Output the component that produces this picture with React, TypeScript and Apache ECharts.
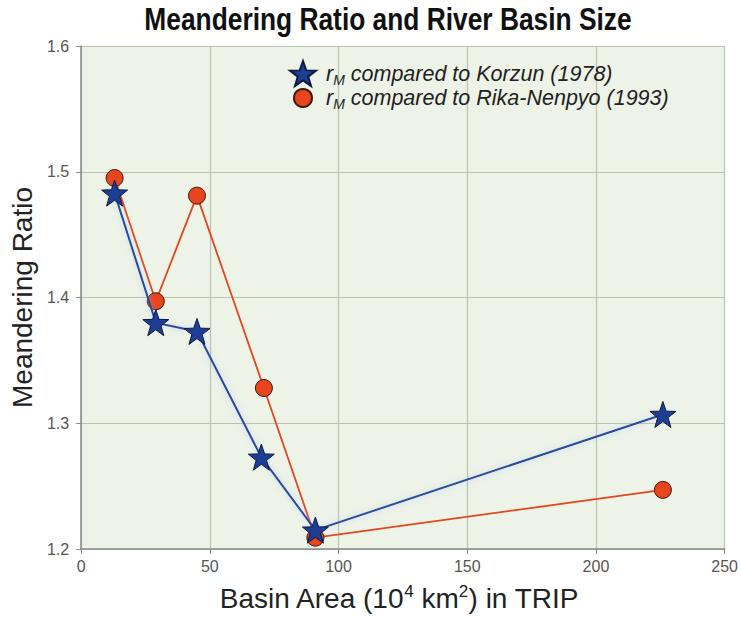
import React, { useEffect, useRef } from "react";
import * as echarts from "echarts";

const korzunArea = [13, 29, 45, 70, 91, 226];
const korzunRatio = [1.483, 1.38, 1.373, 1.273, 1.215, 1.307];
const rikaArea = [13, 29, 45, 71, 91, 226];
const rikaRatio = [1.495, 1.397, 1.481, 1.328, 1.209, 1.247];

const seriesNames = ["Korzun (1978)", "Rika-Nenpyo (1993)"];
const titleText = "Meandering Ratio and River Basin Size";

const STAR =
  "path://M12,0 L14.9,8.3 L23.5,8.5 L16.6,13.8 L19.1,22.2 L12,17.2 L4.9,22.2 L7.4,13.8 L0.5,8.5 L9.1,8.3 Z";

export default function App() {
  const ref = useRef<HTMLDivElement>(null);
  useEffect(() => {
    if (!ref.current) return;
    const chart = echarts.init(ref.current, null, { renderer: "svg" });
    const font = "Liberation Sans, Arial, Helvetica, sans-serif";
    const legendRich = (padLeft: number) => ({
      r: { fontSize: 21.5, fontStyle: "italic", color: "#222", fontFamily: font, padding: [0, 0, 0, padLeft] },
      m: { fontSize: 14, fontStyle: "italic", color: "#222", fontFamily: font, padding: [12, 0, 0, 0] },
      t: { fontSize: 21.5, fontStyle: "italic", color: "#222", fontFamily: font },
    });
    const fmt = (name: string) => `{r|r}{m|M}{t| compared to ${name}}`;
    chart.setOption({
      animation: false,
      backgroundColor: "#ffffff",
      textStyle: { fontFamily: font },
      graphic: [
        {
          type: "text",
          x: 388,
          y: 4,
          scaleX: 0.85,
          style: {
            text: titleText,
            fontSize: 31,
            fontWeight: "bold",
            fontFamily: font,
            fill: "#111",
            textAlign: "center",
            textVerticalAlign: "top",
          },
        },
      ],
      legend: [
        {
          orient: "vertical",
          left: 284,
          top: 55,
          itemWidth: 26,
          itemHeight: 26,
          data: [{ name: seriesNames[0], icon: STAR }],
          formatter: fmt,
          textStyle: { fontFamily: font, fontStyle: "italic", color: "#222", rich: legendRich(5) },
        },
        {
          orient: "vertical",
          left: 288,
          top: 82,
          itemWidth: 18,
          itemHeight: 18,
          data: [{ name: seriesNames[1], icon: "circle" }],
          formatter: fmt,
          textStyle: { fontFamily: font, fontStyle: "italic", color: "#222", rich: legendRich(9) },
        },
      ],
      grid: {
        left: 78,
        right: 15,
        top: 46,
        bottom: 64,
        show: true,
        backgroundColor: "#eef3e8",
        borderWidth: 0,
      },
      xAxis: {
        type: "value",
        min: 0,
        max: 250,
        interval: 50,
        name: "{a|Basin Area (10}{s|4}{a| km}{s|2}{a|) in TRIP}",
        nameLocation: "middle",
        nameGap: 34,
        nameTextStyle: {
          padding: [0, 8, 0, 0],
          rich: {
            a: { fontSize: 28, color: "#222", fontFamily: font },
            s: { fontSize: 17, color: "#222", fontFamily: font, padding: [0, 0, 13, 0] },
          },
        },
        axisLine: { show: true, lineStyle: { color: "#8a8a8a", width: 1.5 } },
        axisTick: { show: true, length: 5, lineStyle: { color: "#8a8a8a" } },
        axisLabel: { fontSize: 16, color: "#555", margin: 9, fontFamily: font },
        splitLine: { show: true, lineStyle: { color: "#b9c4ad", width: 1.2 } },
      },
      yAxis: {
        type: "value",
        min: 1.2,
        max: 1.6,
        interval: 0.1,
        name: "Meandering Ratio",
        nameLocation: "middle",
        nameGap: 42,
        nameTextStyle: { fontSize: 28, color: "#222", fontFamily: font },
        axisLine: { show: true, lineStyle: { color: "#8a8a8a", width: 1.5 } },
        axisTick: { show: true, length: 5, lineStyle: { color: "#8a8a8a" } },
        axisLabel: {
          fontSize: 16,
          color: "#555",
          margin: 12,
          fontFamily: font,
          formatter: (v: number) => v.toFixed(1),
        },
        splitLine: { show: true, lineStyle: { color: "#b9c4ad", width: 1.2 } },
      },
      series: [
        {
          name: seriesNames[0],
          type: "line",
          data: korzunArea.map((x, i) => [x, korzunRatio[i]]),
          symbol: STAR,
          symbolSize: 26,
          z: 3,
          lineStyle: {
            color: "#2b4a9e",
            width: 2,
            shadowColor: "rgba(140,185,235,0.6)",
            shadowBlur: 6,
          },
          itemStyle: { color: "#1d3e94", borderColor: "#0d1a40", borderWidth: 1 },
        },
        {
          name: seriesNames[1],
          type: "line",
          data: rikaArea.map((x, i) => [x, rikaRatio[i]]),
          symbol: "circle",
          symbolSize: 17,
          z: 2,
          lineStyle: { color: "#e4461f", width: 1.8 },
          itemStyle: { color: "#e8441e", borderColor: "#3a1a10", borderWidth: 1 },
        },
      ],
    });
    return () => chart.dispose();
  }, []);
  return <div ref={ref} style={{ width: 741, height: 617, position: "absolute", left: 0, top: 0 }} />;
}
